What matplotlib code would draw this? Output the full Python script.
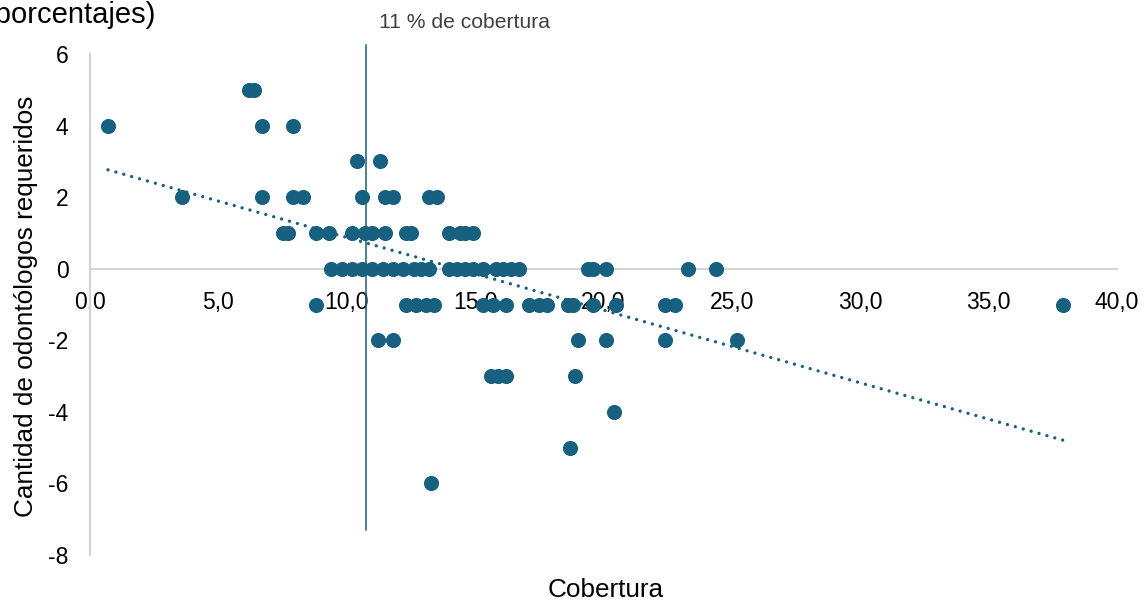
import numpy as np
import matplotlib
matplotlib.use("Agg")
import matplotlib.pyplot as plt

plt.rcParams['font.family'] = ['Liberation Sans', 'DejaVu Sans']

# Cobertura (%) de cada unidad, agrupada por cantidad de odontólogos requeridos
cobertura_por_requeridos = {
    5: [6.2, 6.4],
    4: [0.7, 6.7, 7.9],
    3: [10.4, 11.3],
    2: [3.6, 6.7, 7.9, 8.3, 10.6, 11.5, 11.8, 13.2, 13.5],
    1: [7.5, 7.7, 8.8, 9.3, 10.2, 10.7, 11.0, 11.5, 12.3, 12.5, 14.0, 14.4, 14.6, 14.9],
    0: [9.4, 9.8, 10.2, 10.6, 11.0, 11.4, 11.8, 12.2, 12.6, 12.9, 13.2, 14.0, 14.3,
        14.6, 14.9, 15.3, 15.8, 16.1, 16.4, 16.7, 19.4, 19.6, 20.1, 23.3, 24.4],
    -1: [8.8, 12.3, 12.7, 13.1, 13.4, 15.3, 15.7, 16.2, 17.1, 17.5, 17.8, 18.6, 18.8,
         19.6, 20.5, 22.4, 22.8, 37.9],
    -2: [11.2, 11.8, 19.0, 20.1, 22.4, 25.2],
    -3: [15.6, 15.9, 16.2, 18.9],
    -4: [20.4],
    -5: [18.7],
    -6: [13.3],
}

cobertura_umbral = 10.75
umbral_texto = "11 % de cobertura"

x_ticks = [0, 5, 10, 15, 20, 25, 30, 35, 40]
x_tick_labels = ["0,0", "5,0", "10,0", "15,0", "20,0", "25,0", "30,0", "35,0", "40,0"]
y_ticks = [-8, -6, -4, -2, 0, 2, 4, 6]
y_tick_labels = ["-8", "-6", "-4", "-2", "0", "2", "4", "6"]

x = np.concatenate([np.array(v, float) for v in cobertura_por_requeridos.values()])
y = np.concatenate([np.full(len(v), k, float) for k, v in cobertura_por_requeridos.items()])

color = '#17607f'
gray = '#d4d4d4'

fig = plt.figure(figsize=(11.48, 6.0), dpi=100)
ax = fig.add_axes([90 / 1148, 1 - 555 / 600, 1027 / 1148, 501 / 600])

ax.scatter(x, y, s=118, color=color, linewidths=0, zorder=3)

# Linear trend line
m, b = np.polyfit(x, y, 1)
xt = np.array([x.min(), x.max()])
ax.plot(xt, m * xt + b, color=color, lw=2.4, linestyle=(0, (0.01, 2.45)),
        dash_capstyle='round', zorder=4)

# Threshold line
ax.plot([cobertura_umbral, cobertura_umbral], [-7.3, 6.25], color=color, lw=1.1,
        clip_on=False, zorder=2)
ax.text(cobertura_umbral + 0.52, 6.89, umbral_texto, fontsize=15.2, color='#404040',
        ha='left', va='center')

ax.set_xlim(0, 40)
ax.set_ylim(-8, 6)
for s in ['top', 'right']:
    ax.spines[s].set_visible(False)
ax.spines['bottom'].set_position(('data', 0))
ax.spines['bottom'].set_color(gray)
ax.spines['bottom'].set_linewidth(1.5)
ax.spines['bottom'].set_zorder(1)
ax.spines['left'].set_color(gray)
ax.spines['left'].set_linewidth(1.5)

ax.set_xticks(x_ticks)
ax.set_xticklabels(x_tick_labels)
ax.set_yticks(y_ticks)
ax.set_yticklabels(y_tick_labels)
ax.tick_params(axis='x', length=0, pad=16, labelsize=16.5, labelcolor='#000000')
ax.tick_params(axis='y', length=0, pad=15.5, labelsize=16.5, labelcolor='#000000')

fig.text(606 / 1148, 1 - 590 / 600, "Cobertura", fontsize=18.8, ha='center', va='center')
fig.text(26 / 1148, 1 - 306 / 600, "Cantidad de odontólogos requeridos", fontsize=18.8,
         rotation=90, ha='center', va='center')
fig.text(156 / 1148, 1 - 23 / 600, "(porcentajes)", fontsize=21, ha='right',
         va='baseline')

fig.savefig("out.png", dpi=100)
